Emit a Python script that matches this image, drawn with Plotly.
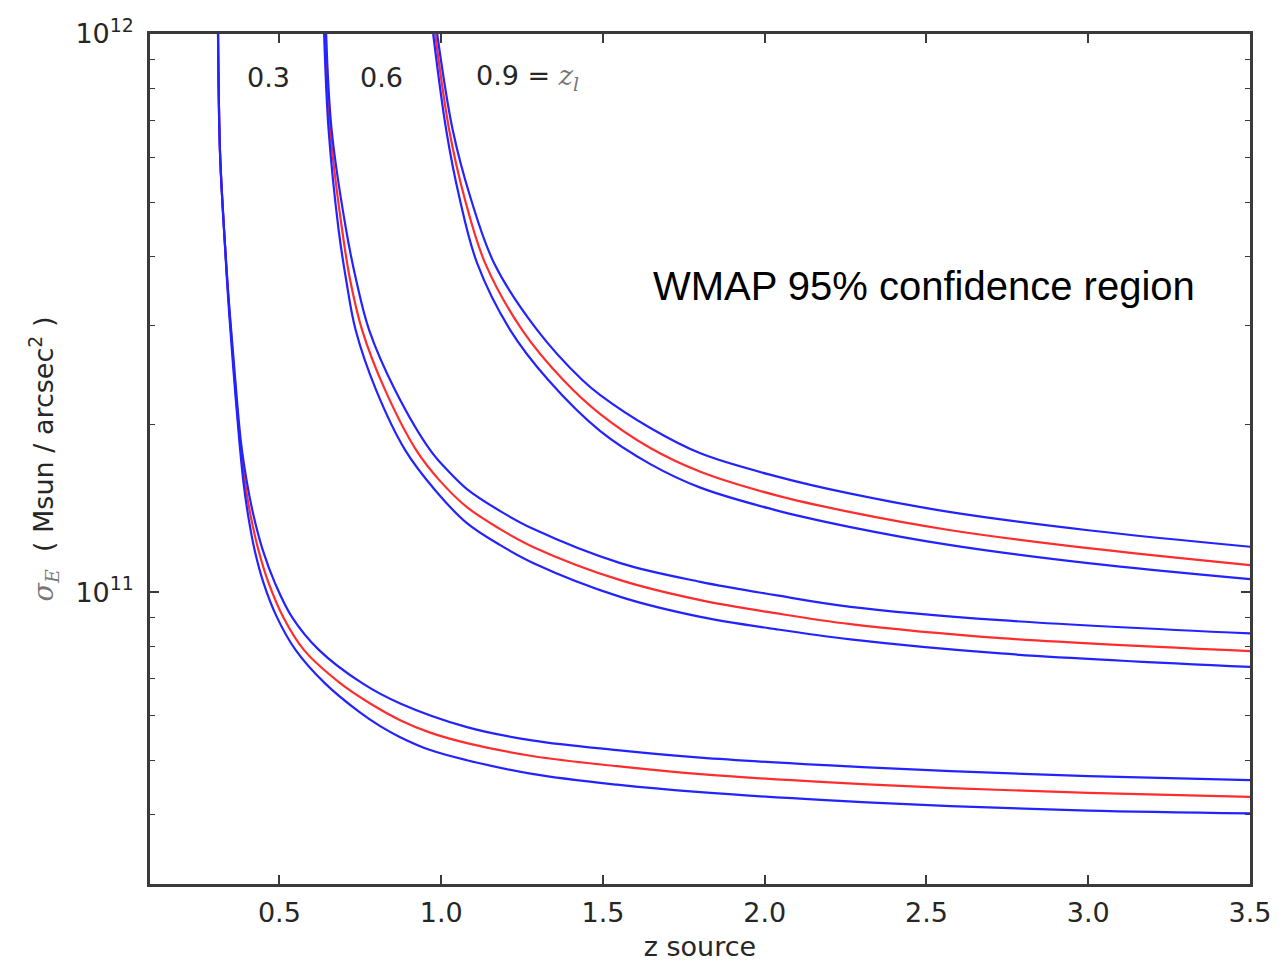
import plotly.graph_objects as go

# Critical surface density vs. source redshift for three lens redshifts.
# For each lens redshift: central curve (red) and the WMAP 95% bounds (blue).

# ---- lens z = 0.3 ----
zs_03_mid = [0.3103, 0.3165, 0.3289, 0.3422, 0.3583, 0.3784, 0.3939, 0.4118, 0.4353, 0.4668,
             0.5120, 0.5763, 0.6877, 0.7805, 0.8733, 0.9661, 1.0796, 1.2856, 1.5436, 1.8012, 2.1879,
             2.5745, 3.0, 3.5]
sig_03_mid = [1.0e12, 6.12e11, 4.455e11, 3.379e11, 2.552e11, 1.849e11, 1.568e11, 1.363e11, 1.189e11, 1.038e11,
              9.02e10, 7.872e10, 6.870e10, 6.317e10, 5.897e10, 5.601e10, 5.364e10, 5.082e10, 4.877e10,
              4.719e10, 4.566e10, 4.454e10, 4.368e10, 4.296e10]

zs_03_hi = [0.3103, 0.3165, 0.3289, 0.3428, 0.3598, 0.3815, 0.4000, 0.4211, 0.4486, 0.4863,
            0.5389, 0.6227, 0.7557, 0.8733, 1.0796, 1.2856, 1.5436, 1.8012, 2.1879, 2.5745, 3.0, 3.5]
sig_03_hi = [1.0e12, 6.12e11, 4.455e11, 3.379e11, 2.552e11, 1.849e11, 1.568e11, 1.363e11, 1.189e11, 1.038e11,
             9.02e10, 7.872e10, 6.870e10, 6.317e10, 5.730e10, 5.419e10, 5.211e10, 5.051e10, 4.897e10,
             4.777e10, 4.680e10, 4.603e10]

zs_03_lo = [0.3103, 0.3165, 0.3289, 0.3413, 0.3567, 0.3768, 0.3892, 0.4041, 0.4235, 0.4511,
            0.4922, 0.5504, 0.6401, 0.7477, 0.8114, 0.8733, 0.9661, 1.0796, 1.2856, 1.5436, 1.8012,
            2.1879, 2.5745, 3.0, 3.5]
sig_03_lo = [1.0e12, 6.12e11, 4.455e11, 3.379e11, 2.552e11, 1.849e11, 1.568e11, 1.363e11, 1.189e11, 1.038e11,
             9.02e10, 7.872e10, 6.870e10, 6.095e10, 5.754e10, 5.498e10, 5.213e10, 4.999e10, 4.719e10,
             4.519e10, 4.381e10, 4.240e10, 4.136e10, 4.060e10, 4.014e10]

# ---- lens z = 0.6 ----
zs_06_mid = [0.6413, 0.6568, 0.6939, 0.7186, 0.7557, 0.8269, 0.9228, 0.9970, 1.0796, 1.1826, 1.2856,
             1.5538, 1.8012, 2.0332, 2.2652, 2.7291, 3.5]
sig_06_mid = [1.0e12, 6.73e11, 4.455e11, 3.624e11, 2.948e11, 2.301e11, 1.797e11, 1.581e11, 1.420e11, 1.297e11,
              1.204e11, 1.0508e11, 9.676e10, 9.170e10, 8.763e10, 8.272e10, 7.839e10]

zs_06_hi = [0.6444, 0.6614, 0.7063, 0.7372, 0.7774, 0.8578, 0.9661, 1.0217, 1.0796, 1.1826, 1.2856,
            1.5538, 1.8012, 2.0332, 2.2652, 2.7291, 3.5]
sig_06_hi = [1.0e12, 6.73e11, 4.455e11, 3.624e11, 2.948e11, 2.301e11, 1.797e11, 1.648e11, 1.530e11, 1.397e11,
             1.297e11, 1.127e11, 1.0434e11, 9.877e10, 9.412e10, 8.908e10, 8.434e10]

zs_06_lo = [0.6382, 0.6521, 0.6831, 0.7063, 0.7356, 0.7990, 0.8887, 0.9815, 1.0796, 1.1826, 1.2856,
            1.5538, 1.8012, 2.0332, 2.2652, 2.7291, 3.5]
sig_06_lo = [1.0e12, 6.73e11, 4.455e11, 3.624e11, 2.948e11, 2.301e11, 1.797e11, 1.523e11, 1.329e11, 1.214e11,
             1.127e11, 9.808e10, 9.031e10, 8.584e10, 8.227e10, 7.765e10, 7.348e10]

# ---- lens z = 0.9 ----
zs_09_mid = [0.9815, 1.0249, 1.0712, 1.1362, 1.2506, 1.3775, 1.4918, 1.6465, 1.8012, 2.0332, 2.2652,
             2.5745, 3.0, 3.5]
sig_09_mid = [1.0e12, 6.73e11, 5.11e11, 3.881e11, 2.948e11, 2.399e11, 2.084e11, 1.812e11, 1.643e11,
              1.492e11, 1.391e11, 1.291e11, 1.199e11, 1.118e11]

zs_09_hi = [0.9877, 1.0357, 1.0898, 1.1640, 1.2970, 1.4362, 1.4918, 1.6465, 1.8012, 2.0332, 2.2652,
            2.5745, 3.0, 3.5]
sig_09_hi = [1.0e12, 6.73e11, 5.11e11, 3.881e11, 2.948e11, 2.399e11, 2.254e11, 1.968e11, 1.773e11,
             1.614e11, 1.501e11, 1.391e11, 1.291e11, 1.206e11]

zs_09_lo = [0.9753, 1.0156, 1.0558, 1.1114, 1.2135, 1.3311, 1.4918, 1.6465, 1.8012, 2.0332, 2.2652,
            2.5745, 3.0, 3.5]
sig_09_lo = [1.0e12, 6.73e11, 5.11e11, 3.881e11, 2.948e11, 2.399e11, 1.943e11, 1.696e11, 1.539e11,
             1.403e11, 1.308e11, 1.214e11, 1.127e11, 1.055e11]

lens_labels = ["0.3", "0.6"]
lens_label_z = [0.465, 0.8145]
x_ticks = [0.5, 1.0, 1.5, 2.0, 2.5, 3.0, 3.5]
y_major = [1e11, 1e12]
y_major_text = ["10<sup>11</sup>", "10<sup>12</sup>"]
y_minor = [4e10, 5e10, 6e10, 7e10, 8e10, 9e10,
           2e11, 3e11, 4e11, 5e11, 6e11, 7e11, 8e11, 9e11]

BLUE = "rgb(35,35,255)"
RED = "rgb(255,45,45)"
FRAME = "#3a3a3a"
TXT = "#262626"
FONT = "DejaVu Sans"

fig = go.Figure()

families = [
    (zs_03_lo, sig_03_lo, zs_03_mid, sig_03_mid, zs_03_hi, sig_03_hi),
    (zs_06_lo, sig_06_lo, zs_06_mid, sig_06_mid, zs_06_hi, sig_06_hi),
    (zs_09_lo, sig_09_lo, zs_09_mid, sig_09_mid, zs_09_hi, sig_09_hi),
]
for zlo, slo, zmid, smid, zhi, shi in families:
    for zz, ss, col in ((zmid, smid, RED), (zlo, slo, BLUE), (zhi, shi, BLUE)):
        fig.add_trace(go.Scatter(
            x=zz, y=ss, mode="lines",
            line=dict(color=col, width=2.2, shape="spline", smoothing=1.0),
            showlegend=False, hoverinfo="skip",
        ))

for txt, zx in zip(lens_labels, lens_label_z):
    fig.add_annotation(x=zx, y=0.9494, xref="x", yref="paper", yanchor="middle",
                       text=txt, showarrow=False,
                       font=dict(family=FONT, size=27, color=TXT))
fig.add_annotation(
    x=1.102, y=0.9494, xref="x", yref="paper", xanchor="left", yanchor="middle",
    text="0.9 = <span style='font-family:DejaVu Serif;color:#777'><i>z</i><sub><i>l</i></sub></span>",
    showarrow=False, font=dict(family=FONT, size=27, color=TXT))
fig.add_annotation(
    x=2.491, y=0.703, xref="x", yref="paper", yanchor="middle",
    text="WMAP 95% confidence region",
    showarrow=False, font=dict(family="Liberation Sans", size=40, color="black"))

fig.update_layout(
    width=1282, height=966,
    margin=dict(l=150, r=32, t=34, b=82),
    paper_bgcolor="white", plot_bgcolor="white",
    font=dict(family=FONT, size=27, color=TXT),
    xaxis=dict(
        range=[0.1, 3.5], tickvals=x_ticks, tickformat=".1f",
        ticks="inside", ticklen=9, tickwidth=1.5, tickcolor=FRAME,
        showline=True, linewidth=2.5, linecolor=FRAME, mirror="allticks",
        showgrid=False, zeroline=False, automargin=False,
        ticklabelstandoff=3,
        title=dict(text="z source", standoff=10, font=dict(size=27, color=TXT)),
    ),
    yaxis=dict(
        type="log", range=[10.4771, 12.0],
        tickvals=y_major, ticktext=y_major_text,
        ticks="inside", ticklen=9, tickwidth=1.5, tickcolor=FRAME,
        minor=dict(tickvals=y_minor, ticks="inside", ticklen=5, tickwidth=1.2, tickcolor=FRAME),
        showline=True, linewidth=2.5, linecolor=FRAME, mirror="allticks",
        showgrid=False, zeroline=False, automargin=False,
        ticklabelstandoff=8,
        title=dict(
            text="<span style='font-family:DejaVu Serif;color:#777'><i>σ</i><sub><i>E</i></sub></span>"
                 "\u00a0\u00a0( Msun / arcsec<sup>2</sup> )",
            standoff=14, font=dict(size=27, color=TXT)),
    ),
)

fig.write_html("out.html")
